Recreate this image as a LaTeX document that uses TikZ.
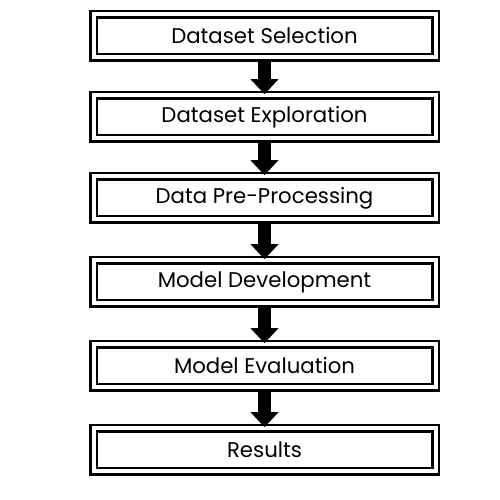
\documentclass[tikz,border=0pt]{standalone}
\usepackage{fontspec}
\setmainfont{Poppins}
\usepackage{tikz}
\usetikzlibrary{arrows.meta,positioning}
\tikzset{
    stagebox/.style={draw, double, line width=0.05cm, double distance=0.08cm,
        minimum width=6.84cm, minimum height=0.86cm, inner sep=0pt,
        font=\fontsize{12.1}{14}\selectfont},
    flowarrow/.style={line width=0.26cm, -{Triangle[width=0.54cm, length=0.3cm]}}
}

\begin{document}
\begin{tikzpicture}
\useasboundingbox (0,0) rectangle (10,10);
% stages
\node[stagebox] (sel)  at (5.29,9.28) {Dataset Selection};
\node[stagebox] (expl) at (5.29,7.66) {Dataset Exploration};
\node[stagebox] (prep) at (5.29,6.04) {Data Pre-Processing};
\node[stagebox] (dev)  at (5.29,4.36) {Model Development};
\node[stagebox] (eval) at (5.29,2.68) {Model Evaluation};
\node[stagebox] (res)  at (5.29,1.00) {Results};

% arrows between stages
\foreach \a/\b in {sel/expl, expl/prep, prep/dev, dev/eval, eval/res}{
    \draw[flowarrow] (\a.south) -- (\b.north);
}
\end{tikzpicture}
\end{document}
